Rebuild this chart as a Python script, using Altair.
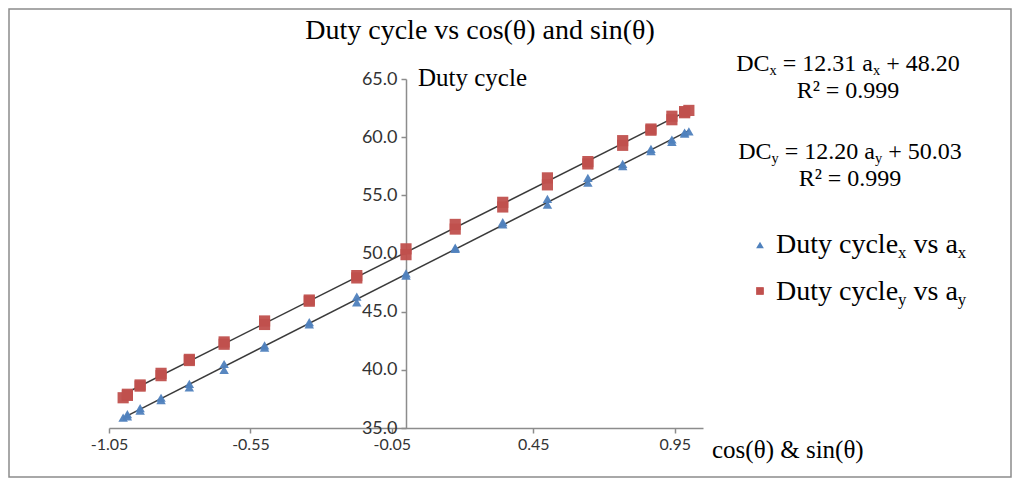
import altair as alt
import pandas as pd

# ---- data ----
a_vals = [-1.0, -0.985, -0.985, -0.940, -0.940, -0.866, -0.866, -0.766, -0.766,
          -0.643, -0.643, -0.5, -0.5, -0.342, -0.342, -0.174, -0.174, 0.0, 0.0,
          0.174, 0.174, 0.342, 0.342, 0.5, 0.5, 0.643, 0.643, 0.766, 0.766,
          0.866, 0.866, 0.940, 0.940, 0.985, 0.985, 1.0]
dc_x = [35.9, 36.0, 36.2, 36.5, 36.7, 37.4, 37.6, 38.5, 38.8, 40.0, 40.5, 41.9,
        42.1, 43.9, 44.1, 45.8, 46.3, 48.1, 48.3, 50.4, 50.5, 52.5, 52.7, 54.2,
        54.7, 56.1, 56.5, 57.5, 57.7, 58.8, 59.0, 59.6, 59.8, 60.3, 60.4, 60.5]
dc_y = [37.6, 37.8, 37.9, 38.6, 38.7, 39.5, 39.7, 40.8, 40.9, 42.2, 42.4, 43.9,
        44.2, 45.9, 46.0, 47.9, 48.1, 49.9, 50.4, 52.1, 52.5, 54.0, 54.4, 55.9,
        56.5, 57.7, 57.9, 59.3, 59.7, 60.6, 60.7, 61.5, 61.8, 62.1, 62.2, 62.3]
x_ticks = [-1.05, -0.55, -0.05, 0.45, 0.95]
y_ticks = [35, 40, 45, 50, 55, 60, 65]
x_domain = [-1.05, 1.05]
y_domain = [35, 65]

df = pd.DataFrame({
    "a": a_vals + a_vals,
    "dc": dc_x + dc_y,
    "series": ["x"] * len(a_vals) + ["y"] * len(a_vals),
})

W, H = 594, 349
SERIF = "Liberation Serif"
SANS = "Lato"
BLUE = "#4F81BD"
RED = "#C0504D"
AXC = "#8c8c8c"

yaxis_offset = -(0 - x_domain[0]) / (x_domain[1] - x_domain[0]) * W

xenc = alt.X("a:Q", scale=alt.Scale(domain=x_domain, nice=False, zero=False),
             axis=alt.Axis(values=x_ticks, title=None, grid=False, labelFlush=False,
                           labelExpr="replace(format(datum.value, '.2f'), '\u2212', '-')",
                           tickSize=5, domainColor=AXC, tickColor=AXC,
                           domainWidth=1.5, tickWidth=1.5,
                           labelFont=SANS, labelFontSize=16, labelColor="#333333",
                           labelPadding=3))
yenc = alt.Y("dc:Q", scale=alt.Scale(domain=y_domain, nice=False, zero=False),
             axis=alt.Axis(values=y_ticks, format=".1f", title=None, grid=False,
                           labelFlush=False,
                           offset=yaxis_offset, tickSize=5, domainColor=AXC,
                           tickColor=AXC, domainWidth=1.5, tickWidth=1.5,
                           labelFont=SANS, labelFontSize=18, labelColor="#333333",
                           labelPadding=4))

base = alt.Chart(df)

lines = base.transform_regression("a", "dc", groupby=["series"], extent=[-1, 1]).mark_line(
    color="#3a3a3a", strokeWidth=1.5).encode(x=xenc, y=yenc, detail="series:N")

tri = base.transform_filter("datum.series == 'x'").mark_point(
    shape="triangle-up", filled=True, size=90, color=BLUE, opacity=0.95).encode(x=xenc, y=yenc)
sq = base.transform_filter("datum.series == 'y'").mark_point(
    shape="square", filled=True, size=125, color=RED, opacity=0.95).encode(x=xenc, y=yenc)

# ---- annotation helpers (Times metrics for Liberation Serif) ----
TW = {' ': 250, 'D': 722, 'C': 667, 'R': 667, '=': 564, '+': 564, '.': 250,
      'a': 444, 'x': 500, 'y': 500, 'u': 500, 't': 278, 'c': 444, 'l': 278,
      'e': 444, 'v': 500, 's': 389, '\u00b2': 300}
for d in "0123456789":
    TW[d] = 500


def tw(s, size):
    return sum(TW.get(ch, 500) for ch in s) * size / 1000.0


one = alt.Data(values=[{"k": 0}])


def txt(text, x, y, size, align="left", baseline="alphabetic", font=SERIF, color="black"):
    return alt.Chart(one).mark_text(
        text=text, align=align, baseline=baseline, font=font, fontSize=size,
        color=color).encode(x=alt.value(x), y=alt.value(y))


def rich(segments, x0, y0, size, centered=False):
    """segments: list of (text, is_sub). Leading spaces are advanced, not drawn."""
    sub = size * 0.6
    total = sum(tw(t, sub if s else size) for t, s in segments)
    x = x0 - total / 2 if centered else x0
    out = []
    for t, s in segments:
        sz = sub if s else size
        lead = len(t) - len(t.lstrip(" "))
        x += tw(" " * lead, sz)
        body = t.strip(" ")
        out.append(txt(body, x, y0 + (size * 0.18 if s else 0), sz))
        x += tw(t[lead:], sz)
    return out


ann = []
# title
ann.append(txt("Duty cycle vs cos(\u03b8) and sin(\u03b8)", 371, -40, 28, align="center"))
# axis titles
ann.append(txt("Duty cycle", 309, 7, 25))
ann.append(txt("cos(\u03b8) & sin(\u03b8)", 603, 379, 25))
# equations
ann += rich([("DC", False), ("x", True), (" = 12.31 a", False), ("x", True), (" + 48.20", False)],
            739, -8, 24, centered=True)
ann.append(txt("R\u00b2 = 0.999", 739, 19, 24, align="center"))
ann += rich([("DC", False), ("y", True), (" = 12.20 a", False), ("y", True), (" + 50.03", False)],
            741, 80, 24, centered=True)
ann.append(txt("R\u00b2 = 0.999", 741, 107, 24, align="center"))
# legend
ann.append(alt.Chart(one).mark_point(shape="triangle-up", filled=True, size=60, color=BLUE,
                                     opacity=1).encode(x=alt.value(651), y=alt.value(166)))
ann += rich([("Duty cycle", False), ("x", True), (" vs a", False), ("x", True)], 667, 174, 28)
ann.append(alt.Chart(one).mark_point(shape="square", filled=True, size=60, color=RED,
                                     opacity=1).encode(x=alt.value(651), y=alt.value(212)))
ann += rich([("Duty cycle", False), ("y", True), (" vs a", False), ("y", True)], 667, 221, 28)

frame = alt.Chart(one).mark_rect(fill=None, stroke="#8c8c8c", strokeWidth=1.5).encode(
    x=alt.value(-100), x2=alt.value(902), y=alt.value(-70), y2=alt.value(398))

chart = alt.layer(frame, lines, tri, sq, *ann).properties(
    width=W, height=H,
    autosize=alt.AutoSizeParams(type="none"),
    padding={"left": 101, "top": 71, "right": 310, "bottom": 52},
    background="white",
).configure_view(strokeWidth=0)

chart.save("out.html", embed_options={"renderer": "svg", "actions": False})
